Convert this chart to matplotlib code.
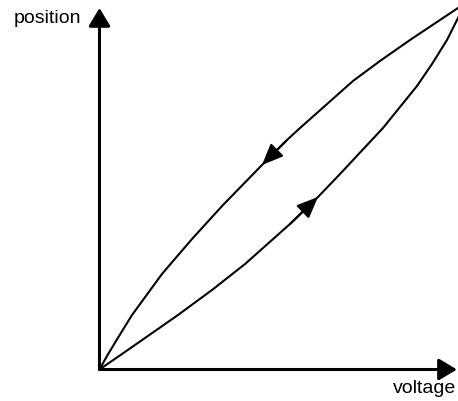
import numpy as np
import matplotlib.pyplot as plt

plt.rcParams['font.family'] = ['Liberation Sans', 'DejaVu Sans']

# hysteresis loop (voltage, position), 1 = top of the axis
v_up = [0.0, 0.0628, 0.1269, 0.2190, 0.3138, 0.4059, 0.5314, 0.6095, 0.6709,
        0.7908, 0.8856, 0.9275, 0.9693, 1.0, 1.0223]
p_up = [0.0, 0.0429, 0.0871, 0.1508, 0.2199, 0.2918, 0.4025, 0.4772, 0.5408,
        0.6681, 0.7842, 0.8451, 0.9115, 0.9723, 1.0152]

v_down = [1.0223, 1.0, 0.8661, 0.7824, 0.7071, 0.5593, 0.5230, 0.4533, 0.3445,
          0.2580, 0.1743, 0.0907, 0.0460, 0.0209, 0.0]
p_down = [1.0152, 1.0, 0.9115, 0.8534, 0.7981, 0.6680, 0.6349, 0.5657, 0.4550,
          0.3610, 0.2642, 0.1507, 0.0788, 0.0373, 0.0]

fig = plt.figure(figsize=(4.58, 4.01), dpi=100)
ax = fig.add_axes([0, 0, 1, 1])
ax.set_xlim(-0.2775, 1.0)
ax.set_ylim(-0.0871, 1.0221)
ax.axis('off')

ax.plot(v_up, p_up, color='black', lw=1.5, solid_capstyle='round', solid_joinstyle='round')
ax.plot(v_down, p_down, color='black', lw=1.5, solid_capstyle='round', solid_joinstyle='round')

# axes with arrows
ax_style = dict(arrowstyle='-|>,head_length=1.1,head_width=0.66', color='black',
                lw=2.2, mutation_scale=10, shrinkA=0, shrinkB=0)
ax.annotate('', xy=(0, 1.0), xytext=(0, 0), arrowprops=ax_style)
ax.annotate('', xy=(0.997, 0), xytext=(0, 0), arrowprops=ax_style)

# direction arrows on the loop
cur_style = dict(arrowstyle='-|>,head_length=1.3,head_width=0.55', color='black',
                 lw=1.5, mutation_scale=10, shrinkA=0, shrinkB=0)
ax.annotate('', xy=(v_up[7], p_up[7]), xytext=(v_up[6], p_up[6]), arrowprops=cur_style)
ax.annotate('', xy=(v_down[7], p_down[7]), xytext=(v_down[6], p_down[6]), arrowprops=cur_style)

ax.text(-0.0504, 0.9696, 'position', ha='right', va='center', fontsize=14)
ax.text(0.994, -0.0525, 'voltage', ha='right', va='center', fontsize=14)

fig.savefig('out.png', dpi=100)
